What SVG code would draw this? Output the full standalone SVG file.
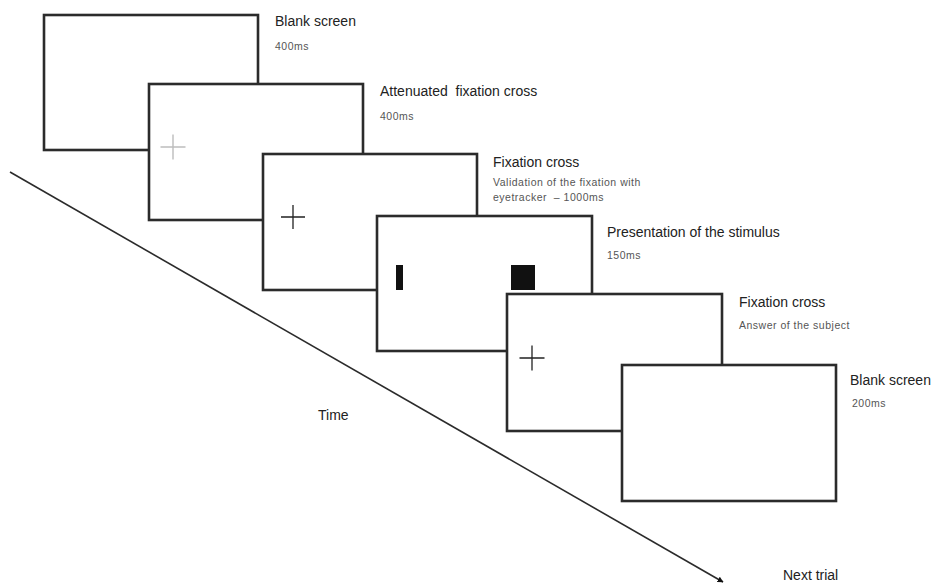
<svg xmlns="http://www.w3.org/2000/svg" width="934" height="584" viewBox="0 0 934 584">
<defs>
<style>
.screen{fill:#fff;stroke:#2b2b2b;stroke-width:2.6}
.title{font-family:"Liberation Sans",Arial,sans-serif;font-size:14px;fill:#222}
.sub{font-family:"Liberation Sans",Arial,sans-serif;font-size:10.5px;letter-spacing:0.5px;fill:#555}
.cross{stroke:#222;stroke-width:1.3;fill:none}
.cross-light{stroke:#bdbdbd;stroke-width:1.4;fill:none}
.axis{stroke:#2b2b2b;stroke-width:1.6;fill:none}
</style>
<marker id="arrow" viewBox="0 0 10 10" refX="9" refY="5" markerWidth="6" markerHeight="6" orient="auto" markerUnits="userSpaceOnUse">
<path d="M0,0 L10,5 L0,10 z" fill="#111"/>
</marker>
</defs>
<rect width="934" height="584" fill="#fff"/>

<g id="connectors">
<line class="axis" x1="10" y1="172" x2="723" y2="582" marker-end="url(#arrow)"/>
</g>

<g id="screen1">
<rect class="screen" x="44" y="15" width="214" height="135"/>
<text class="title" x="275" y="26">Blank screen</text>
<text class="sub" x="275" y="50">400ms</text>
</g>

<g id="screen2">
<rect class="screen" x="149" y="84" width="214" height="136"/>
<path class="cross-light" d="M160.5,147 H185.5 M173,134.5 V159.5"/>
<text class="title" x="380" y="96" style="white-space:pre">Attenuated  fixation cross</text>
<text class="sub" x="380" y="120">400ms</text>
</g>

<g id="screen3">
<rect class="screen" x="263" y="154" width="214" height="136"/>
<path class="cross" d="M281,217 H305 M293,205 V229"/>
<text class="title" x="493" y="167">Fixation cross</text>
<text class="sub" x="493" y="186">Validation of the fixation with</text>
<text class="sub" x="493" y="201" style="white-space:pre">eyetracker  – 1000ms</text>
</g>

<g id="screen4">
<rect class="screen" x="377" y="216" width="215" height="135"/>
<rect x="396" y="265" width="7" height="25" fill="#111"/>
<rect x="511" y="265" width="24" height="25" fill="#111"/>
<text class="title" x="607" y="237">Presentation of the stimulus</text>
<text class="sub" x="607" y="259">150ms</text>
</g>

<g id="screen5">
<rect class="screen" x="507" y="294" width="215" height="137"/>
<path class="cross" d="M519.5,358 H544.5 M532,345.5 V370.5"/>
<text class="title" x="739" y="307">Fixation cross</text>
<text class="sub" x="739" y="329">Answer of the subject</text>
</g>

<g id="screen6">
<rect class="screen" x="622" y="365" width="214" height="136"/>
<text class="title" x="850" y="385">Blank screen</text>
<text class="sub" x="852" y="407">200ms</text>
</g>

<g id="labels">
<text class="title" x="318" y="420">Time</text>
<text class="title" x="783" y="580">Next trial</text>
</g>
</svg>
